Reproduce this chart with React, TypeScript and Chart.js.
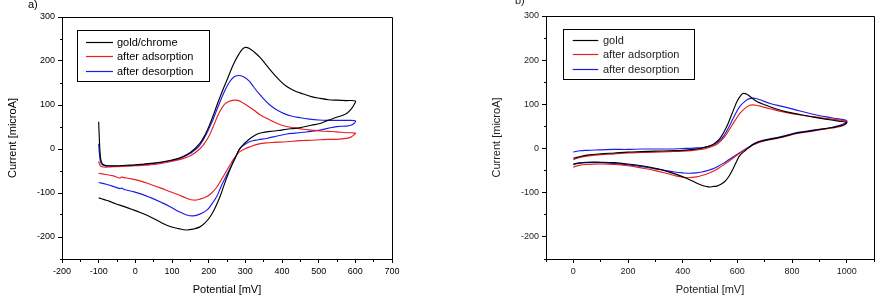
import React, { useEffect, useRef } from 'react';
import { Chart, registerables } from 'chart.js';

Chart.register(...registerables);

// ---------- Panel a) gold/chrome ----------
const aGoldFwdE = [-100, -98, -96, -93, -88, -75, -50, -25, 0, 25, 50, 75, 100, 125, 150, 176, 190, 204, 215, 225, 238, 250, 262, 272, 282, 291, 300, 312, 325, 340, 358, 376, 395, 413, 435, 458, 480, 504, 527, 549, 575, 600];
const aGoldFwdI = [62, 20, -10, -28, -35, -38, -38, -37, -36, -34, -32, -29, -25, -19, -8, 13, 32, 58, 82, 105, 133, 157, 182, 200, 215, 226, 231, 228, 220, 208, 190, 172, 155, 142, 132, 125, 119, 115, 112, 111, 110, 109];
const aGoldRevE = [596, 588, 575, 549, 525, 504, 480, 458, 435, 413, 390, 367, 345, 330, 313, 298, 285, 278, 268, 254, 242, 231, 218, 204, 190, 176, 158, 140, 118, 95, 70, 40, 15, -10, -30, -45, -52, -58, -70, -85, -100];
const aGoldRevI = [100, 90, 80, 72, 65, 58, 54, 50, 47, 45, 42, 40, 37, 33, 24, 13, 1, -10, -28, -55, -82, -108, -133, -154, -168, -177, -182, -184, -181, -176, -167, -154, -145, -137, -131, -127, -125, -123, -119, -115, -111];

const aAdsFwdE = [-100, -97, -93, -88, -75, -50, -25, 0, 25, 40, 60, 95, 125, 149, 170, 185, 200, 212, 225, 235, 245, 255, 265, 272, 282, 295, 310, 322, 340, 367, 390, 413, 435, 458, 480, 504, 527, 549, 575, 600];
const aAdsFwdI = [-28, -36, -40, -41, -41, -40, -39, -38, -37, -36, -34, -29, -23, -16, -4, 9, 28, 50, 76, 92, 103, 108, 110.5, 111, 110, 104, 96, 89, 78, 66, 57, 51, 48, 45, 43, 41, 40, 39, 37, 36];
const aAdsRevE = [596, 588, 575, 549, 525, 504, 480, 449, 413, 380, 358, 335, 313, 298, 285, 278, 268, 257, 245, 233, 222, 208, 195, 176, 158, 140, 118, 95, 70, 40, 15, -10, -30, -38, -42, -60, -80, -100];
const aAdsRevI = [32, 27, 24, 22, 22, 21, 20, 19, 16.5, 15, 14, 11, 5, 0, -6, -12, -23, -38, -55, -72, -87, -100, -108, -114, -116, -112, -104, -97, -89, -80, -73, -68, -65, -64, -66, -61, -58, -55];

const aDesFwdE = [-100, -98, -96, -93, -88, -75, -50, -25, 0, 25, 50, 75, 100, 125, 150, 176, 204, 225, 240, 255, 268, 281, 295, 310, 322, 335, 350, 367, 385, 404, 425, 450, 475, 500, 525, 550, 575, 600];
const aDesFwdI = [12, -10, -25, -33, -37, -39, -39, -38, -37, -35, -33, -30, -26, -20, -10, 9, 52, 95, 125, 150, 163, 167, 164, 155, 142, 128, 114, 100, 89, 81, 75, 71, 68, 66, 65, 65, 65, 64];
const aDesRevE = [596, 588, 575, 549, 525, 504, 480, 458, 435, 413, 390, 358, 335, 313, 298, 285, 278, 268, 257, 245, 233, 222, 208, 195, 176, 158, 140, 118, 95, 70, 40, 15, -10, -30, -38, -42, -60, -80, -100];
const aDesRevI = [58, 54, 52, 51, 47, 43, 40, 38, 36, 34, 30, 24, 21, 17, 10, 1, -10, -28, -46, -66, -87, -108, -126, -139, -148, -152, -150, -142, -131, -121, -110, -102, -96, -92, -89, -90, -85, -80, -76];

// ---------- Panel b) gold ----------
const bGoldFwdE = [0, 25, 50, 100, 150, 200, 250, 300, 350, 400, 440, 470, 500, 520, 540, 560, 580, 600, 615, 622, 635, 650, 670, 700, 740, 780, 830, 880, 930, 970, 1000];
const bGoldFwdI = [-22, -18, -15, -12, -10, -8, -7, -6, -5, -4, -2, 1, 6, 13, 26, 48, 78, 108, 122, 125, 123, 116, 107, 99, 90, 83, 77, 71, 66, 62, 59];
const bGoldRevE = [990, 960, 930, 890, 850, 810, 768, 730, 690, 660, 646, 630, 610, 598, 585, 570, 555, 540, 525, 510, 500, 488, 470, 450, 420, 380, 340, 300, 250, 200, 150, 100, 50, 20, 0];
const bGoldRevI = [54, 49, 46, 42, 38, 34, 27, 22, 17, 10, 4, -4, -15, -28, -45, -62, -74, -81, -85, -86, -87, -86, -83, -78, -69, -59, -51, -45, -39, -35, -32, -31, -31, -33, -36];

const bAdsFwdE = [0, 25, 50, 100, 150, 200, 250, 300, 350, 400, 440, 480, 510, 530, 550, 570, 590, 610, 630, 645, 655, 670, 690, 720, 768, 830, 890, 950, 1000];
const bAdsFwdI = [-25, -20, -17, -14, -12, -10, -9, -8, -7, -6, -4, -1, 5, 12, 24, 42, 62, 80, 92, 98, 99, 98, 95, 90, 83, 76, 71, 66, 61];
const bAdsRevE = [990, 960, 930, 890, 850, 810, 768, 730, 690, 660, 646, 630, 610, 590, 570, 550, 530, 510, 490, 470, 450, 421, 400, 370, 340, 300, 250, 200, 150, 100, 50, 20, 0];
const bAdsRevI = [53, 48, 45, 41, 37, 33, 26, 21, 16, 9, 4, -2, -10, -19, -28, -37, -45, -52, -57, -61, -64, -66, -65, -61, -56, -50, -44, -39, -36, -35, -36, -38, -42];

const bDesFwdE = [0, 25, 50, 100, 150, 200, 250, 300, 350, 400, 440, 480, 510, 530, 550, 570, 590, 610, 630, 645, 660, 680, 720, 768, 830, 890, 950, 1000];
const bDesFwdI = [-8, -5, -4, -3, -2, -2, -1, -1, -1, 0, 1, 3, 8, 15, 28, 50, 75, 96, 108, 113, 114, 111, 102, 95, 85, 76, 69, 63];
const bDesRevE = [990, 960, 930, 890, 850, 810, 768, 730, 690, 660, 646, 630, 610, 590, 570, 550, 530, 510, 490, 470, 450, 427, 400, 370, 340, 300, 250, 200, 150, 100, 50, 20, 0];
const bDesRevI = [56, 50, 46, 43, 39, 35, 28, 23, 18, 11, 5, -1, -9, -17, -25, -33, -40, -46, -50, -53, -55, -56, -55, -53, -50, -46, -41, -37, -34, -32, -32, -33, -35];

// ---------- Labels and ticks ----------
const aLabels = ['gold/chrome', 'after adsorption', 'after desorption'];
const bLabels = ['gold', 'after adsorption', 'after desorption'];
const aXTicks = [-200, -100, 0, 100, 200, 300, 400, 500, 600, 700];
const aXMinor = [-150, -50, 50, 150, 250, 350, 450, 550, 650];
const bXTicks = [0, 200, 400, 600, 800, 1000];
const bXMinor = [-100, 100, 300, 500, 700, 900, 1100];
const yTicks = [-200, -100, 0, 100, 200, 300];
const yMinor = [-250, -150, -50, 50, 150, 250];

const COLORS = ['#000000', 'rgb(232,30,30)', 'rgb(28,28,232)'];
const FONT = 'Liberation Sans, Arial, Helvetica, sans-serif';

function pts(e: number[], i: number[]) {
  return e.map((x, k) => ({ x, y: i[k] }));
}

function align(px: number) {
  return Math.round(px - 0.5) + 0.5;
}

const decorPlugin = {
  id: 'cvDecor',
  afterDraw(chart: any, _args: any, opts: any) {
    const { ctx, chartArea: ca, scales } = chart;
    ctx.save();
    ctx.strokeStyle = '#000';
    ctx.lineWidth = 1;
    const t = align(ca.top), r = align(ca.right), l = align(ca.left), b = align(ca.bottom);
    ctx.beginPath();
    ctx.moveTo(l, t); ctx.lineTo(r, t); ctx.lineTo(r, b);
    ctx.stroke();
    ctx.beginPath();
    for (const v of opts.xMinor) {
      const px = align(scales.x.getPixelForValue(v));
      ctx.moveTo(px, b); ctx.lineTo(px, b + 2.5);
    }
    for (const v of opts.yMinor) {
      const py = align(scales.y.getPixelForValue(v));
      ctx.moveTo(l - 2.5, py); ctx.lineTo(l, py);
    }
    ctx.stroke();
    const lg = opts.legend;
    const bx = Math.round(ca.left + lg.dx) + 0.5, by = Math.round(ca.top + lg.dy) + 0.5;
    ctx.strokeStyle = '#000';
    ctx.strokeRect(bx, by, lg.w, lg.h);
    ctx.font = `11px ${FONT}`;
    ctx.textBaseline = 'middle';
    ctx.textAlign = 'left';
    chart.data.datasets.forEach((ds: any, k: number) => {
      const y = Math.round(ca.top + lg.rows[k]) + 0.5;
      ctx.strokeStyle = ds.borderColor;
      ctx.lineWidth = 1.2;
      ctx.beginPath();
      ctx.moveTo(ca.left + lg.x0, y); ctx.lineTo(ca.left + lg.x1, y);
      ctx.stroke();
      ctx.fillStyle = opts.textColor;
      ctx.fillText(ds.label, ca.left + lg.tx, y + 0.5);
    });
    ctx.restore();
  },
};

type PanelSpec = {
  series: { label: string; data: { x: number; y: number }[]; color: string }[];
  xMin: number; xMax: number; xTicks: number[]; xMinor: number[];
  padTop: number; padRight: number; textColor: string;
  legend: any;
};

function makeConfig(p: PanelSpec): any {
  const tickFont = { family: FONT, size: 9 };
  const titleFont = { family: FONT, size: 11 };
  return {
    type: 'scatter',
    data: {
      datasets: p.series.map((s) => ({
        label: s.label,
        data: s.data,
        showLine: true,
        borderColor: s.color,
        backgroundColor: s.color,
        borderWidth: 1.15,
        pointRadius: 0,
        pointHoverRadius: 0,
        tension: 0.4,
        fill: false,
      })),
    },
    options: {
      responsive: false,
      maintainAspectRatio: false,
      animation: false,
      events: [],
      layout: { padding: { left: 0, right: p.padRight, top: p.padTop, bottom: 0 } },
      plugins: {
        legend: { display: false },
        tooltip: { enabled: false },
        cvDecor: { xMinor: p.xMinor, yMinor, legend: p.legend, textColor: p.textColor },
      },
      scales: {
        x: {
          type: 'linear',
          min: p.xMin,
          max: p.xMax,
          afterBuildTicks: (s: any) => { s.ticks = p.xTicks.map((v) => ({ value: v })); },
          afterFit: (s: any) => { s.height = 45; s.paddingLeft = 0; s.paddingRight = 0; },
          ticks: { font: tickFont, color: p.textColor, padding: 3, maxRotation: 0, autoSkip: false, callback: (v: any) => String(v) },
          grid: { drawOnChartArea: false, drawTicks: true, tickLength: 4, color: '#000', lineWidth: 1 },
          border: { display: true, color: '#000', width: 1 },
          title: { display: true, text: 'Potential [mV]', font: titleFont, color: p.textColor, padding: { top: 0, bottom: 7.4 } },
        },
        y: {
          type: 'linear',
          min: -250,
          max: 300,
          afterBuildTicks: (s: any) => { s.ticks = yTicks.map((v) => ({ value: v })); },
          afterFit: (s: any) => { s.width = 62; s.paddingTop = 0; s.paddingBottom = 0; },
          ticks: { font: tickFont, color: p.textColor, padding: 3, autoSkip: false, callback: (v: any) => String(v) },
          grid: { drawOnChartArea: false, drawTicks: true, tickLength: 4, color: '#000', lineWidth: 1 },
          border: { display: true, color: '#000', width: 1 },
          title: { display: true, text: 'Current [microA]', font: titleFont, color: p.textColor, padding: { top: 6.4, bottom: 0 } },
        },
      },
    },
    plugins: [decorPlugin],
  };
}

function Panel({ spec, left, width, label, labelLeft, labelTop }: { spec: PanelSpec; left: number; width: number; label: string; labelLeft: number; labelTop: number }) {
  const ref = useRef<HTMLCanvasElement | null>(null);
  useEffect(() => {
    if (!ref.current) return;
    const chart = new Chart(ref.current, makeConfig(spec));
    return () => chart.destroy();
  }, []);
  return (
    <>
      <canvas ref={ref} width={width} height={304} style={{ position: 'absolute', left, top: 0, width, height: 304 }} />
      <div style={{ position: 'absolute', left: labelLeft, top: labelTop, font: `11px ${FONT}`, lineHeight: '11px', color: spec.textColor }}>{label}</div>
    </>
  );
}

const specA: PanelSpec = {
  series: [
    { label: aLabels[0], data: [...pts(aGoldFwdE, aGoldFwdI), ...pts(aGoldRevE, aGoldRevI)], color: COLORS[0] },
    { label: aLabels[1], data: [...pts(aAdsFwdE, aAdsFwdI), ...pts(aAdsRevE, aAdsRevI)], color: COLORS[1] },
    { label: aLabels[2], data: [...pts(aDesFwdE, aDesFwdI), ...pts(aDesRevE, aDesRevI)], color: COLORS[2] },
  ],
  xMin: -200, xMax: 700, xTicks: aXTicks, xMinor: aXMinor,
  padTop: 17, padRight: 50, textColor: '#000',
  legend: { dx: 15, dy: 13, w: 132, h: 51, x0: 24, x1: 51, tx: 55, rows: [24.7, 39, 53.7] },
};

const specB: PanelSpec = {
  series: [
    { label: bLabels[0], data: [...pts(bGoldFwdE, bGoldFwdI), ...pts(bGoldRevE, bGoldRevI)], color: COLORS[0] },
    { label: bLabels[1], data: [...pts(bAdsFwdE, bAdsFwdI), ...pts(bAdsRevE, bAdsRevI)], color: COLORS[1] },
    { label: bLabels[2], data: [...pts(bDesFwdE, bDesFwdI), ...pts(bDesRevE, bDesRevI)], color: COLORS[2] },
  ],
  xMin: -100, xMax: 1100, xTicks: bXTicks, xMinor: bXMinor,
  padTop: 16, padRight: 10, textColor: '#222',
  legend: { dx: 17, dy: 13, w: 131, h: 50, x0: 26.7, x1: 52.3, tx: 57, rows: [24, 38.3, 53.3] },
};

export default function App() {
  return (
    <div style={{ position: 'absolute', left: 0, top: 0, width: 884, height: 304, overflow: 'hidden', background: '#fff' }}>
      <Panel spec={specA} left={0} width={442} label="a)" labelLeft={28} labelTop={-1} />
      <Panel spec={specB} left={484} width={400} label="b)" labelLeft={515} labelTop={-5} />
    </div>
  );
}
